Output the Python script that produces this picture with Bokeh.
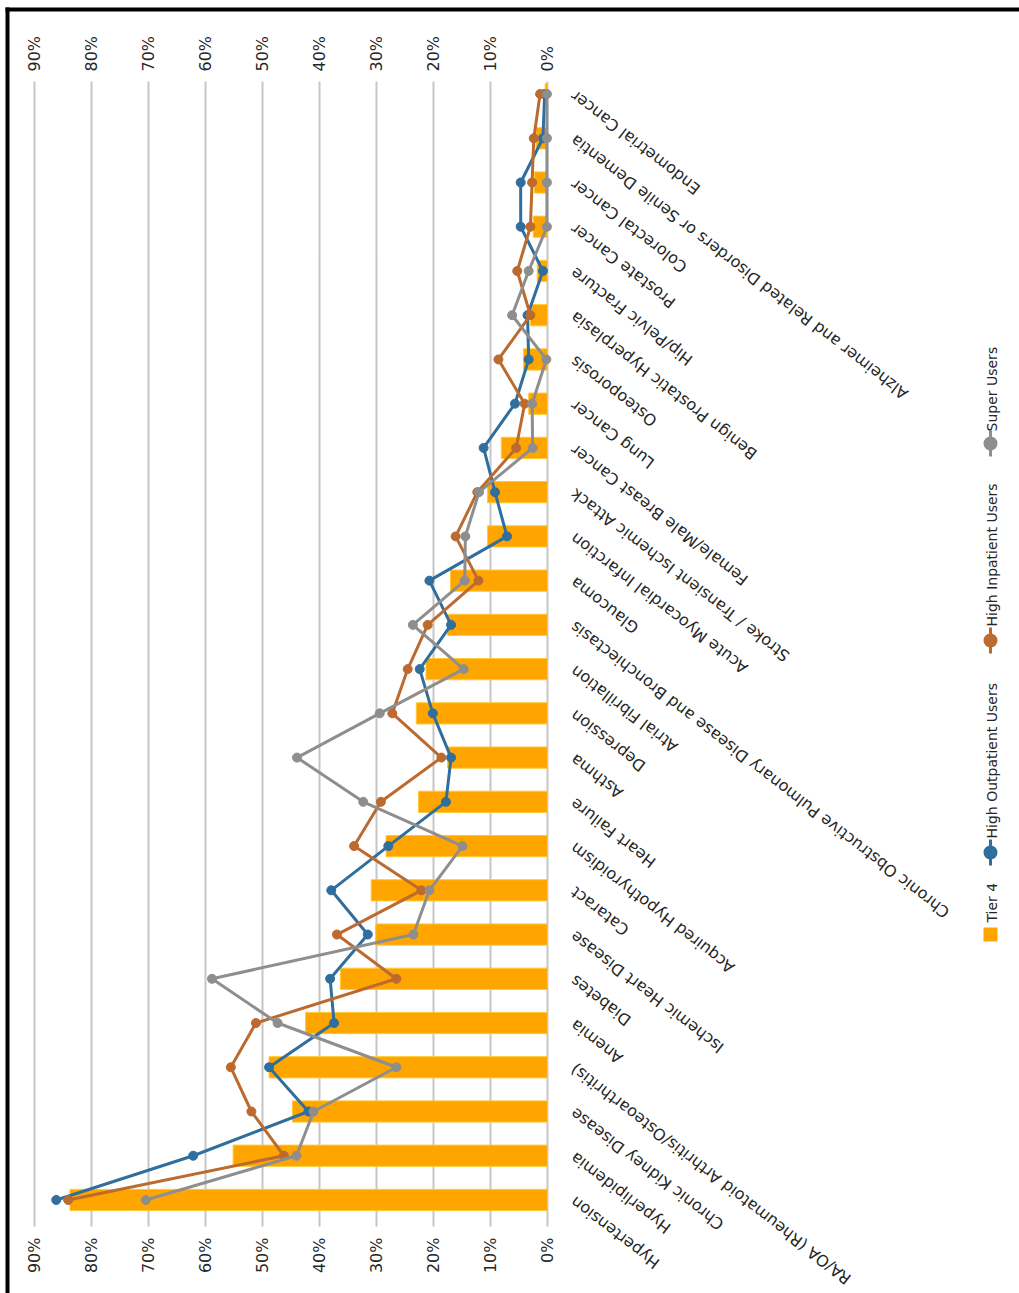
import math

from bokeh.core.properties import value
from bokeh.embed import file_html
from bokeh.models import (BoxAnnotation, ColumnDataSource, FactorRange, FixedTicker,
                          Label, LabelSet, LinearAxis, PrintfTickFormatter, Range1d)
from bokeh.plotting import figure
from bokeh.resources import INLINE

# Chronic conditions, listed from the top row to the bottom row
conditions = [
    "Endometrial Cancer",
    "Alzheimer and Related Disorders or Senile Dementia",
    "Colorectal Cancer",
    "Prostate Cancer",
    "Hip/Pelvic Fracture",
    "Benign Prostatic Hyperplasia",
    "Osteoporosis",
    "Lung Cancer",
    "Female/Male Breast Cancer",
    "Stroke / Transient Ischemic Attack",
    "Acute Myocardial Infarction",
    "Glaucoma",
    "Chronic Obstructive Pulmonary Disease and Bronchiectasis",
    "Atrial Fibrillation",
    "Depression",
    "Asthma",
    "Heart Failure",
    "Acquired Hypothyroidism",
    "Cataract",
    "Ischemic Heart Disease",
    "Diabetes",
    "Anemia",
    "RA/OA (Rheumatoid Arthritis/Osteoarthritis)",
    "Chronic Kidney Disease",
    "Hyperlipidemia",
    "Hypertension",
]

# Share of each group with the condition (%)
tier4 = [0.4, 2.0, 2.3, 2.5, 1.8, 3.0, 4.2, 3.3, 8.1, 10.5, 10.5, 17.0, 17.5,
         21.3, 23.0, 17.5, 22.6, 28.3, 30.9, 30.1, 36.3, 42.4, 48.8, 44.7,
         55.1, 83.7]
high_outpatient = [0.5, 0.8, 4.7, 4.7, 0.8, 3.5, 3.3, 5.7, 11.2, 9.2, 7.1,
                   20.7, 16.9, 22.4, 20.1, 16.9, 17.8, 27.9, 37.9, 31.5, 38.1,
                   37.4, 48.8, 41.9, 62.1, 86.1]
high_inpatient = [1.3, 2.4, 2.7, 3.0, 5.3, 3.0, 8.6, 4.0, 5.5, 12.3, 16.1,
                  12.1, 21.0, 24.5, 27.2, 18.6, 29.2, 33.9, 22.1, 36.9, 26.5,
                  51.1, 55.5, 51.9, 46.2, 84.0]
super_users = [0.1, 0.1, 0.1, 0.1, 3.3, 6.2, 0.2, 2.7, 2.6, 12.0, 14.4, 14.5,
               23.6, 14.7, 29.4, 43.9, 32.3, 14.9, 20.7, 23.5, 58.8, 47.3,
               26.5, 41.0, 44.0, 70.4]

value_ticks = [0, 10, 20, 30, 40, 50, 60, 70, 80, 90]

series = [
    ("High Outpatient Users", high_outpatient, "#2F6E9D"),
    ("High Inpatient Users", high_inpatient, "#BC6A2E"),
    ("Super Users", super_users, "#8E8E8E"),
]
TIER_COLOR = "#FFA500"
TEXT_COLOR = "#262626"
FONT = "DejaVu Sans"

# Canvas geometry (pixels); the plot frame fills the whole canvas
W, H = 1019, 1293
X_ZERO_PX, X_MAX_PX = 547.0, 33.5
px_per_unit = (X_ZERO_PX - X_MAX_PX) / 90.0
x_start = 90.0 + X_MAX_PX / px_per_unit
x_end = -(W - X_ZERO_PX) / px_per_unit

n_rows = len(conditions)
ROW_PAD = 1.614
row_px = H / (n_rows + 2 * ROW_PAD)
top_synth = n_rows + ROW_PAD


def ys(y_px):
    """Pixel row (from top) to the synthetic coordinate of the category range."""
    return top_synth - y_px / row_px


def sy(y_px):
    """Pixel row (from top) to screen units measured up from the bottom."""
    return H - y_px


GRID_TOP, GRID_BOTTOM = 81, 1226

p = figure(
    width=W, height=H,
    x_range=Range1d(x_start, x_end),
    y_range=FactorRange(*conditions[::-1], range_padding=ROW_PAD,
                        range_padding_units="absolute"),
    x_axis_location=None, y_axis_location=None,
    min_border=0,
    output_backend="svg", toolbar_location=None,
)
p.outline_line_color = None
p.background_fill_color = "white"
p.border_fill_color = "white"
p.xgrid.visible = False
p.ygrid.visible = False


def pct_axis(loc_px, standoff):
    ax = LinearAxis(ticker=FixedTicker(ticks=value_ticks),
                    formatter=PrintfTickFormatter(format="%d%%"),
                    fixed_location=ys(loc_px))
    ax.axis_line_color = None
    ax.minor_tick_line_color = None
    ax.major_tick_out = 0
    ax.major_label_orientation = math.pi / 2
    ax.major_label_standoff = standoff
    ax.major_label_text_font = FONT
    ax.major_label_text_font_size = "16px"
    ax.major_label_text_color = TEXT_COLOR
    return ax


# Top percentage scale (labels only)
top_axis = pct_axis(73, 2)
top_axis.major_tick_line_color = None
top_axis.major_tick_in = 0
p.add_layout(top_axis, "above")

# Bottom percentage scale; its inward ticks run up as the vertical gridlines
bottom_axis = pct_axis(GRID_BOTTOM, 11)
bottom_axis.major_tick_in = GRID_BOTTOM - GRID_TOP
bottom_axis.major_tick_line_color = "#C6C6C6"
bottom_axis.major_tick_line_width = 2
bottom_axis.level = "underlay"
p.add_layout(bottom_axis, "below")

# Tier 4 bars
p.hbar(y=conditions, left=0, right=tier4, height=0.48,
       fill_color=TIER_COLOR, line_color="#FFC933", line_width=1)

# Group lines with markers
for name, vals, color in series:
    p.line(x=vals, y=conditions, line_color=color, line_width=3)
    p.scatter(x=vals, y=conditions, marker="circle", size=9,
              fill_color=color, line_color=color)

# Slanted condition names beside the zero line
label_src = ColumnDataSource(dict(y=conditions, text=conditions))
p.add_layout(LabelSet(
    x=-4.4, y="y", text="text", source=label_src,
    angle=math.radians(142.3), text_align="right", text_baseline="middle",
    text_font=value(FONT), text_font_size=value("16px"),
    text_color=TEXT_COLOR,
))

# Legend, stacked vertically with rotated names
LEG_X = 990


def screen_box(left, right, top_px, bottom_px, color, radius=0):
    return BoxAnnotation(left=left, right=right, top=sy(top_px), bottom=sy(bottom_px),
                         left_units="screen", right_units="screen",
                         top_units="screen", bottom_units="screen",
                         border_radius=radius,
                         fill_color=color, fill_alpha=1, line_color=None)


def legend_text(text, start_px):
    return Label(x=LEG_X + 1, y=sy(start_px), x_units="screen", y_units="screen",
                 text=text, angle=math.pi / 2, text_align="left",
                 text_baseline="middle", text_font=FONT, text_font_size="14px",
                 text_color=TEXT_COLOR)


p.add_layout(screen_box(LEG_X - 7, LEG_X + 7, 927, 941, TIER_COLOR))
p.add_layout(legend_text("Tier 4", 922))

legend_rows = [(852, 838), (640, 626), (443, 431)]
for (name, _, color), (marker_y, text_y) in zip(series, legend_rows):
    p.add_layout(screen_box(LEG_X - 1.5, LEG_X + 1.5, marker_y - 13, marker_y + 13, color))
    p.add_layout(screen_box(LEG_X - 7, LEG_X + 7, marker_y - 7, marker_y + 7, color, radius=7))
    p.add_layout(legend_text(name, text_y))

# Black frame edges along the top and left
p.add_layout(screen_box(5, W, 7, 11, "black"))
p.add_layout(screen_box(5, 9, 7, H, "black"))

open("out.html", "w").write(file_html(p, INLINE))
